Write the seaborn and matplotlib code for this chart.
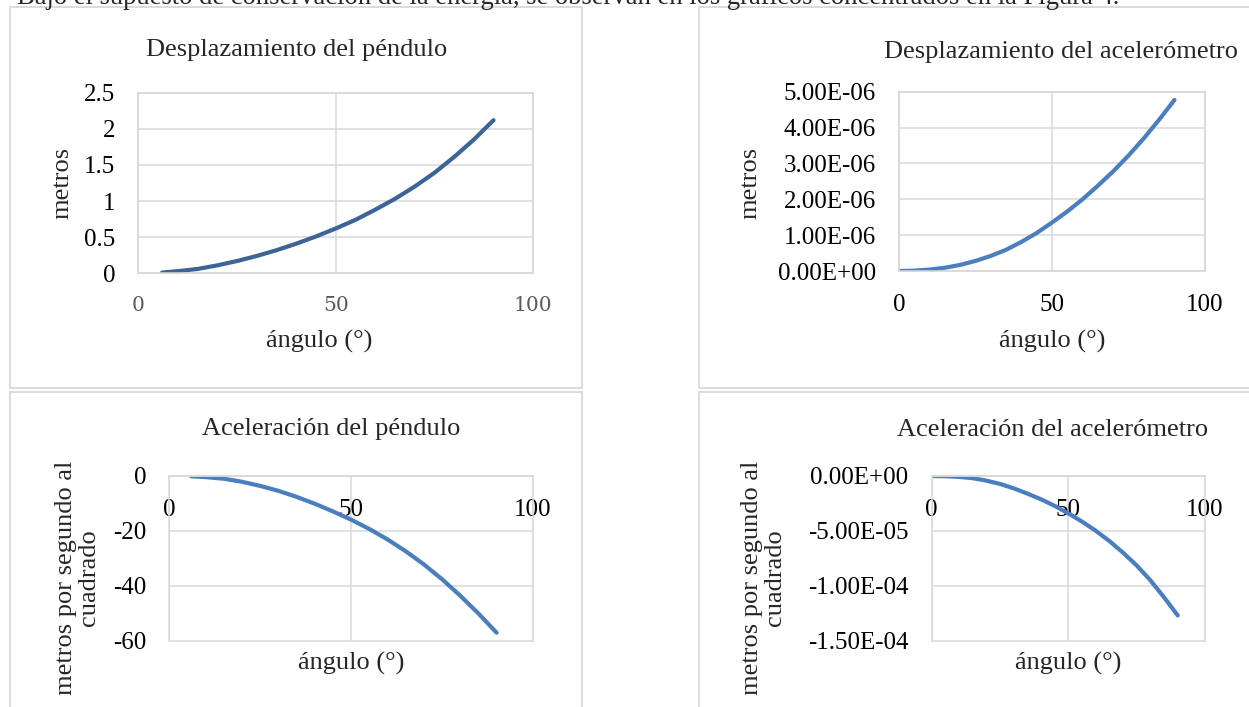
import matplotlib
matplotlib.use("Agg")
import matplotlib.pyplot as plt
import seaborn as sns
from matplotlib.patches import Rectangle
from matplotlib.ticker import FuncFormatter, MultipleLocator

# values (every 5 degrees)
pend_angle = [6, 10, 15, 20, 25, 30, 35, 40, 45, 50, 55, 60, 65, 70, 75, 80, 85, 90]
pend_disp = [0.01, 0.03, 0.06, 0.11, 0.17, 0.24, 0.32, 0.41, 0.51, 0.62,
             0.74, 0.88, 1.03, 1.20, 1.39, 1.61, 1.85, 2.12]
pend_acc = [-0.1, -0.4, -1.0, -2.1, -3.6, -5.4, -7.6, -10.1, -12.9, -15.9,
            -19.3, -23.1, -27.4, -32.2, -37.6, -43.6, -50.1, -57.1]

acc_angle = [0, 5, 10, 15, 20, 25, 30, 35, 40, 45, 50, 55, 60, 65, 70, 75, 80, 85, 90]
acc_disp = [0.0, 0.01e-6, 0.04e-6, 0.09e-6, 0.17e-6, 0.28e-6, 0.42e-6, 0.59e-6, 0.81e-6,
            1.06e-6, 1.35e-6, 1.66e-6, 2.00e-6, 2.38e-6, 2.78e-6, 3.22e-6, 3.70e-6,
            4.22e-6, 4.77e-6]
acc_acc = [0.0, -0.02e-5, -0.08e-5, -0.2e-5, -0.42e-5, -0.72e-5, -1.12e-5, -1.6e-5,
           -2.12e-5, -2.72e-5, -3.4e-5, -4.15e-5, -4.98e-5, -5.92e-5, -6.98e-5,
           -8.15e-5, -9.5e-5, -11.05e-5, -12.7e-5]

titles = ["Desplazamiento del péndulo", "Desplazamiento del acelerómetro",
          "Aceleración del péndulo", "Aceleración del acelerómetro"]
ylabels = ["metros", "metros", "metros por segundo al\ncuadrado", "metros por segundo al\ncuadrado"]
xlabel = "ángulo (°)"
xticks = [0, 50, 100]
intro = ("Bajo el supuesto de conservación de la energía, se observan en los gráficos "
         "concentrados en la Figura 4.")

W, H = 1249, 707
GRID = "#d9d9d9"


def fx(px):
    return px / W


def fy(py):
    return 1 - py / H


sns.set_theme(style="white")
plt.rcParams["font.family"] = ["Liberation Serif", "DejaVu Serif"]

fig = plt.figure(figsize=(W / 100, H / 100), dpi=100)

# chart-area frames (Excel style)
for x0, y0, x1, y1 in [(10, 7, 582, 388), (10, 392, 582, 720),
                       (699, 7, 1275, 388), (699, 392, 1275, 720)]:
    fig.patches.append(Rectangle((fx(x0), fy(y1)), fx(x1) - fx(x0), fy(y0) - fy(y1),
                                 transform=fig.transFigure, fill=False,
                                 edgecolor=GRID, lw=1.3))

fig.text(fx(17), fy(4), intro, ha="left", va="baseline", fontsize=19.2)

sci = FuncFormatter(lambda v, p: f"{v:.2E}")
plain = FuncFormatter(lambda v, p: f"{v:g}")

# rect (px: left, top, right, bottom), ylim, ystep, formatter, color, title xy, xlabel xy, ylabel xy
panels = [
    (pend_angle, pend_disp, (138.4, 92.7, 533, 273.3), (0, 2.5), 0.5, plain, "#3c6497",
     (297, 50), (319, 341.7), (62.5, 183)),
    (acc_angle, acc_disp, (898.8, 91.7, 1205.1, 271), (0, 5e-6), 1e-6, sci, "#4a7ebf",
     (1060.5, 52), (1052, 341.7), (750.8, 182.7)),
    (pend_angle, pend_acc, (169.2, 476, 533, 640.7), (-60, 0), 20, plain, "#4a7ebf",
     (331, 428.5), (350.7, 663.3), (77.2, 578)),
    (acc_angle, acc_acc, (931.5, 476, 1205.1, 640.7), (-1.5e-4, 0), 5e-5, sci, "#4a7ebf",
     (1052.6, 429.5), (1068.3, 663.3), (763.1, 578)),
]

for i, (xs, ys, rect, ylim, ystep, fmt, color, tpos, xlpos, ylpos) in enumerate(panels):
    l, t, r, b = rect
    ax = fig.add_axes([fx(l), fy(b), fx(r) - fx(l), fy(t) - fy(b)])
    sns.lineplot(x=xs, y=ys, ax=ax, color=color, lw=3.0, solid_capstyle="round",
                 solid_joinstyle="round")

    ax.set_xlim(0, 100)
    ax.set_ylim(*ylim)
    ax.set_xticks(xticks)
    ax.yaxis.set_major_locator(MultipleLocator(ystep))
    ax.yaxis.set_major_formatter(fmt)
    ax.grid(True, color=GRID, lw=1.1)
    for gl in ax.get_xgridlines() + ax.get_ygridlines():
        gl.set_clip_on(False)
    for sp in ax.spines.values():
        sp.set_color(GRID)
        sp.set_linewidth(1.1)
    ax.tick_params(length=0, labelsize=18, colors="black")
    ax.tick_params(axis="y", pad=16.5)
    ax.tick_params(axis="x", pad=16.5)

    if ylim[1] == 0:
        ax.spines["bottom"].set_position(("data", 0))

    if i == 0:
        for lab in ax.get_xticklabels():
            lab.set_fontfamily("DejaVu Serif")
            lab.set_fontsize(14.5)
            lab.set_color("#595959")

    def to_axes(p):
        return ((p[0] - l) / (r - l), (b - p[1]) / (b - t))

    ax.set_title(titles[i], fontsize=19, pad=0, va="center",
                 x=to_axes(tpos)[0], y=to_axes(tpos)[1])
    ax.set_xlabel(xlabel, fontsize=19, va="center")
    ax.xaxis.set_label_coords(*to_axes(xlpos))
    ax.set_ylabel(ylabels[i], fontsize=19, va="center", ha="center",
                  multialignment="center", linespacing=1.05)
    ax.yaxis.set_label_coords(*to_axes(ylpos))

fig.savefig("out.png", dpi=100)
